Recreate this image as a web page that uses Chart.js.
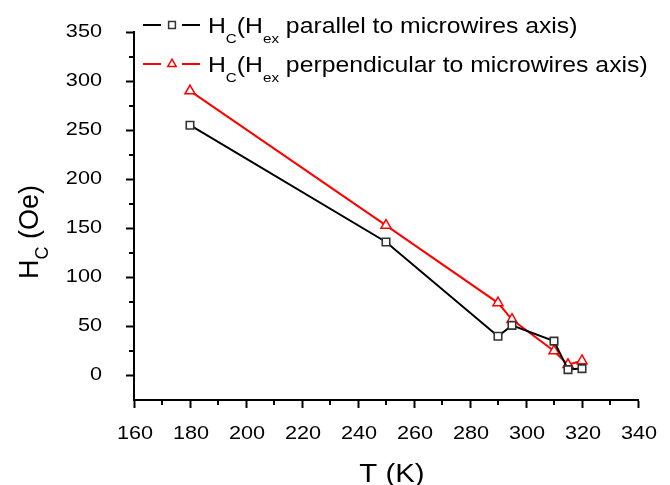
<!DOCTYPE html>
<html>
<head>
<meta charset="utf-8">
<script src="https://cdn.jsdelivr.net/npm/chart.js@4.4.1/dist/chart.umd.min.js"></script>
<style>
    html, body { margin: 0; padding: 0; background: #fff; }
    #wrap { width: 670px; height: 485px; position: relative; }
</style>
</head>
<body>
<div id="wrap"><canvas id="chart"></canvas></div>
<script>
// data
const temperatures = [180, 250, 290, 295, 310, 315, 320];
const hcParallel = [255, 136, 40, 51, 35, 6, 7];
const hcPerpendicular = [290, 153, 74, 57, 25, 11, 15];

const xTicks = [160, 180, 200, 220, 240, 260, 280, 300, 320, 340];
const yTicks = [0, 50, 100, 150, 200, 250, 300, 350];

const FONT = "'Liberation Sans', Arial, sans-serif";
const SX = 1.17; // the original figure is a bit wide-stretched

// draws text (with optional subscripts) stretched horizontally
// parts = [[text, isSub], ...]
function drawRich(ctx, x, y, parts, size, subSize, subShift, align, sx = SX) {
    let w = 0;
    parts.forEach(([t, sub]) => {
        ctx.font = (sub ? subSize : size) + "px " + FONT;
        w += ctx.measureText(t).width;
    });
    let left = x;
    if (align === "right") left = x - w * sx;
    if (align === "center") left = x - w * sx / 2;
    ctx.save();
    ctx.translate(left, y);
    ctx.scale(sx, 1);
    ctx.textAlign = "left";
    ctx.textBaseline = "alphabetic";
    let cx = 0;
    parts.forEach(([t, sub]) => {
        ctx.font = (sub ? subSize : size) + "px " + FONT;
        ctx.fillText(t, cx, sub ? subShift : 0);
        cx += ctx.measureText(t).width;
    });
    ctx.restore();
}

const extras = {
    id: "extras",
    afterDraw(chart) {
        const ctx = chart.ctx;
        const xs = chart.scales.x;
        const ys = chart.scales.y;
        const area = chart.chartArea;

        ctx.save();

        // ===============================
        // Minor ticks
        // ===============================
        ctx.strokeStyle = "#000";
        ctx.lineWidth = 2;
        for (let i = 0; i < xTicks.length - 1; i++) {
            const px = Math.round(xs.getPixelForValue((xTicks[i] + xTicks[i + 1]) / 2));
            ctx.beginPath();
            ctx.moveTo(px, area.bottom);
            ctx.lineTo(px, area.bottom + 5);
            ctx.stroke();
        }
        for (let i = 0; i < yTicks.length - 1; i++) {
            const py = Math.round(ys.getPixelForValue((yTicks[i] + yTicks[i + 1]) / 2));
            ctx.beginPath();
            ctx.moveTo(area.left, py);
            ctx.lineTo(area.left - 5, py);
            ctx.stroke();
        }

        // ===============================
        // Tick labels
        // ===============================
        ctx.fillStyle = "#000";
        xs.ticks.forEach(t => {
            drawRich(ctx, xs.getPixelForValue(t.value) + 1, 439, [[String(t.value), false]], 19, 0, 0, "center", 1.14);
        });
        ys.ticks.forEach(t => {
            drawRich(ctx, 102, ys.getPixelForValue(t.value) + 4.8, [[String(t.value), false]], 19, 0, 0, "right", 1.14);
        });

        // ===============================
        // Axis titles
        // ===============================
        drawRich(ctx, (area.left + area.right) / 2 + 6, 482, [["T (K)", false]], 26, 0, 0, "center", 1.13);

        ctx.save();
        ctx.translate(38, 232);
        ctx.rotate(-Math.PI / 2);
        ctx.font = "27px " + FONT;
        const hW = ctx.measureText("H").width;
        ctx.font = "18px " + FONT;
        const cW = ctx.measureText("C").width;
        ctx.font = "27px " + FONT;
        const oW = ctx.measureText(" (Oe)").width;
        let yx = -(hW + cW + oW) / 2;
        ctx.fillText("H", yx, 0);
        ctx.font = "18px " + FONT;
        ctx.fillText("C", yx + hW, 10);
        ctx.font = "27px " + FONT;
        ctx.fillText(" (Oe)", yx + hW + cW, 0);
        ctx.restore();

        // ===============================
        // Legend
        // ===============================
        const rows = [
            { color: "#000", point: "rect", stroke: "#333", radius: 4.8, y: 25,
              parts: [["H", false], ["C", true], ["(H", false], ["ex", true], [" parallel to microwires axis)", false]] },
            { color: "#ff0000", point: "triangle", stroke: "#ff0000", radius: 4.8, y: 64,
              parts: [["H", false], ["C", true], ["(H", false], ["ex", true], [" perpendicular to microwires axis)", false]] }
        ];
        rows.forEach(r => {
            ctx.strokeStyle = r.color;
            ctx.lineWidth = 2;
            ctx.beginPath();
            ctx.moveTo(143, r.y); ctx.lineTo(161, r.y);
            ctx.moveTo(182, r.y); ctx.lineTo(200, r.y);
            ctx.stroke();
            ctx.fillStyle = "#fff";
            ctx.strokeStyle = r.stroke;
            ctx.lineWidth = 1.5;
            Chart.helpers.drawPoint(ctx, {
                pointStyle: r.point, radius: r.radius, borderWidth: 1.5, rotation: 0
            }, 172, r.y);
            ctx.fillStyle = "#000";
            drawRich(ctx, 208, r.y + 8.3, r.parts, 22, 13.5, 10, "left", 1.125);
        });

        ctx.restore();
    }
};

const yScaleWidth = 134;
const xScaleHeight = 85;

const axisGrid = {
    drawOnChartArea: false,
    drawTicks: true,
    tickLength: 8,
    tickWidth: 2,
    tickColor: "#000"
};

new Chart(document.getElementById("chart"), {
    type: "line",
    data: {
        datasets: [
            {
                label: "Hc parallel",
                data: temperatures.map((t, i) => ({ x: t, y: hcParallel[i] })),
                borderColor: "#000",
                borderWidth: 2,
                pointStyle: "rect",
                pointRadius: 5.3,
                pointBorderWidth: 1.6,
                pointBorderColor: "#333",
                pointBackgroundColor: "#fff",
                tension: 0
            },
            {
                label: "Hc perpendicular",
                data: temperatures.map((t, i) => ({ x: t, y: hcPerpendicular[i] })),
                borderColor: "#ff0000",
                borderWidth: 2,
                pointStyle: "triangle",
                pointRadius: 5.8,
                pointBorderWidth: 1.5,
                pointBorderColor: "#ff0000",
                pointBackgroundColor: "#fff",
                tension: 0
            }
        ]
    },
    options: {
        responsive: true,
        maintainAspectRatio: false,
        animation: false,
        layout: { padding: { top: 32, right: 32, left: 0, bottom: 0 } },
        plugins: {
            legend: { display: false },
            tooltip: { enabled: false }
        },
        scales: {
            x: {
                type: "linear",
                min: 160,
                max: 340,
                afterBuildTicks: s => { s.ticks = xTicks.map(v => ({ value: v })); },
                afterFit: s => { s.height = xScaleHeight; },
                grid: axisGrid,
                border: { display: true, color: "#000", width: 2 },
                ticks: { display: false }
            },
            y: {
                type: "linear",
                min: -25,
                max: 350,
                afterBuildTicks: s => { s.ticks = yTicks.map(v => ({ value: v })); },
                afterFit: s => { s.width = yScaleWidth; },
                grid: axisGrid,
                border: { display: true, color: "#000", width: 2 },
                ticks: { display: false }
            }
        }
    },
    plugins: [extras]
});
</script>
</body>
</html>
